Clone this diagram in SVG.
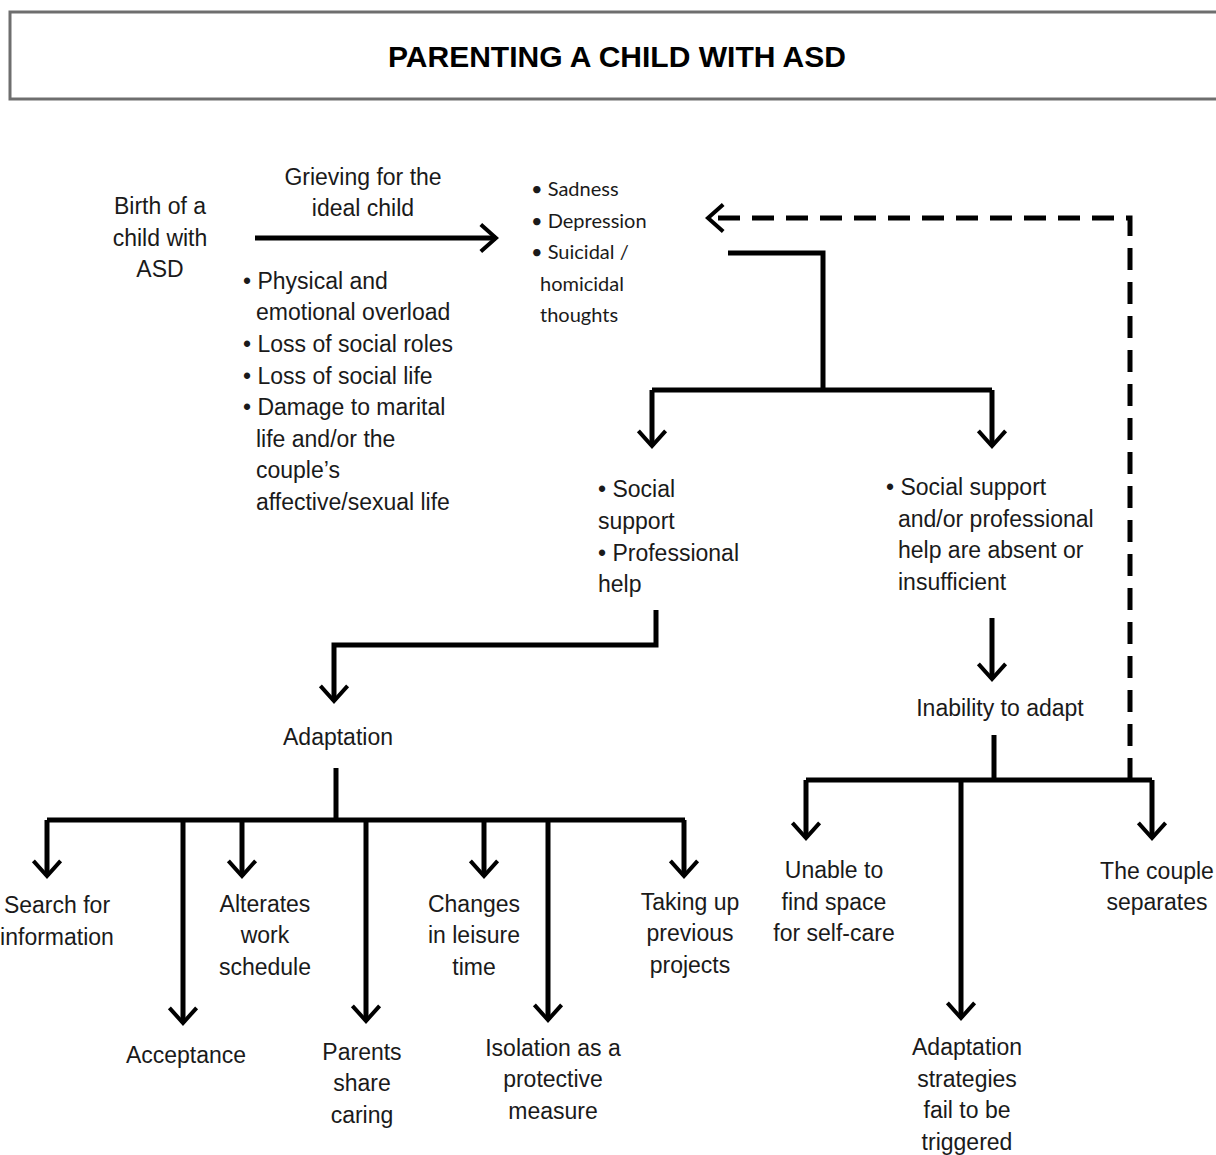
<svg xmlns="http://www.w3.org/2000/svg" width="1216" height="1155" viewBox="0 0 1216 1155">
<style>
.t{font-family:"Liberation Sans",Arial,sans-serif;font-size:23px;fill:#1a1a1a}
.c{text-anchor:middle}
.s{font-family:Lato,"Open Sans",sans-serif;font-size:20px;fill:#1a1a1a}
.ln{fill:none;stroke:#000;stroke-width:5;stroke-linejoin:miter}
.dash{fill:none;stroke:#000;stroke-width:5;stroke-dasharray:22 12}
</style>
<defs>
<marker id="ah" markerUnits="userSpaceOnUse" orient="auto" refX="0" refY="0" markerWidth="40" markerHeight="40" viewBox="-30 -25 40 50" overflow="visible">
<path d="M-19,-17 L0,0 L-19,17" fill="none" stroke="#000" stroke-width="5" stroke-dasharray="none"/>
</marker>
</defs>
<rect width="1216" height="1155" fill="#fff"/>
<g id="title">
<rect x="10" y="12" width="1220" height="87" fill="#fff" stroke="#6e6e6e" stroke-width="3"/>
<text x="617" y="67" font-family="Liberation Sans,Arial,sans-serif" font-weight="bold" font-size="29" text-anchor="middle" textLength="458" lengthAdjust="spacingAndGlyphs" fill="#000">PARENTING A CHILD WITH ASD</text>
</g>
<g id="connectors">
<path class="ln" d="M255,238 H496" marker-end="url(#ah)"/>
<path class="dash" d="M1130,780 V218 H708" marker-end="url(#ah)"/>
<path class="ln" d="M728,253 H823 V390"/>
<path class="ln" d="M652,390 H992"/>
<path class="ln" d="M652,390 V446" marker-end="url(#ah)"/>
<path class="ln" d="M992,390 V446" marker-end="url(#ah)"/>
<path class="ln" d="M656,610 V645 H334 V701" marker-end="url(#ah)"/>
<path class="ln" d="M336,768 V820"/>
<path class="ln" d="M47,820 H685"/>
<path class="ln" d="M47,820 V876" marker-end="url(#ah)"/>
<path class="ln" d="M183,820 V1023" marker-end="url(#ah)"/>
<path class="ln" d="M242,820 V876" marker-end="url(#ah)"/>
<path class="ln" d="M366,820 V1021" marker-end="url(#ah)"/>
<path class="ln" d="M484,820 V876" marker-end="url(#ah)"/>
<path class="ln" d="M548,820 V1020" marker-end="url(#ah)"/>
<path class="ln" d="M684,820 V876" marker-end="url(#ah)"/>
<path class="ln" d="M992,618 V679" marker-end="url(#ah)"/>
<path class="ln" d="M994,735 V780"/>
<path class="ln" d="M806,780 H1152"/>
<path class="ln" d="M806,780 V838" marker-end="url(#ah)"/>
<path class="ln" d="M961,780 V1018" marker-end="url(#ah)"/>
<path class="ln" d="M1152,780 V838" marker-end="url(#ah)"/>
</g>
<g id="birth">
<text class="t c" x="160" y="214">Birth of a</text>
<text class="t c" x="160" y="246">child with</text>
<text class="t c" x="160" y="277">ASD</text>
</g>
<g id="grieving">
<text class="t c" x="363" y="185">Grieving for the</text>
<text class="t c" x="363" y="216">ideal child</text>
</g>
<g id="overload">
<text class="t" x="243" y="289">• Physical and</text>
<text class="t" x="256" y="320">emotional overload</text>
<text class="t" x="243" y="352">• Loss of social roles</text>
<text class="t" x="243" y="384">• Loss of social life</text>
<text class="t" x="243" y="415">• Damage to marital</text>
<text class="t" x="256" y="447">life and/or the</text>
<text class="t" x="256" y="478">couple’s</text>
<text class="t" x="256" y="510">affective/sexual life</text>
</g>
<g id="sadness">
<text class="s" x="531" y="196">• Sadness</text>
<text class="s" x="531" y="228">• Depression</text>
<text class="s" x="531" y="259">• Suicidal /</text>
<text class="s" x="540" y="291">homicidal</text>
<text class="s" x="540" y="322">thoughts</text>
</g>
<g id="support">
<text class="t" x="598" y="497">• Social</text>
<text class="t" x="598" y="529">support</text>
<text class="t" x="598" y="561">• Professional</text>
<text class="t" x="598" y="592">help</text>
</g>
<g id="nosupport">
<text class="t" x="886" y="495">• Social support</text>
<text class="t" x="898" y="527">and/or professional</text>
<text class="t" x="898" y="558">help are  absent or</text>
<text class="t" x="898" y="590">insufficient</text>
</g>
<g id="adaptation">
<text class="t c" x="338" y="745">Adaptation</text>
</g>
<g id="inability">
<text class="t c" x="1000" y="716">Inability to adapt</text>
</g>
<g id="search">
<text class="t c" x="57" y="913">Search for</text>
<text class="t c" x="57" y="945">information</text>
</g>
<g id="acceptance">
<text class="t c" x="186" y="1063">Acceptance</text>
</g>
<g id="alterates">
<text class="t c" x="265" y="912">Alterates</text>
<text class="t c" x="265" y="943">work</text>
<text class="t c" x="265" y="975">schedule</text>
</g>
<g id="parents">
<text class="t c" x="362" y="1060">Parents</text>
<text class="t c" x="362" y="1091">share</text>
<text class="t c" x="362" y="1123">caring</text>
</g>
<g id="changes">
<text class="t c" x="474" y="912">Changes</text>
<text class="t c" x="474" y="943">in leisure</text>
<text class="t c" x="474" y="975">time</text>
</g>
<g id="isolation">
<text class="t c" x="553" y="1056">Isolation as a</text>
<text class="t c" x="553" y="1087">protective</text>
<text class="t c" x="553" y="1119">measure</text>
</g>
<g id="taking">
<text class="t c" x="690" y="910">Taking up</text>
<text class="t c" x="690" y="941">previous</text>
<text class="t c" x="690" y="973">projects</text>
</g>
<g id="unable">
<text class="t c" x="834" y="878">Unable to</text>
<text class="t c" x="834" y="910">find space</text>
<text class="t c" x="834" y="941">for self-care</text>
</g>
<g id="separates">
<text class="t c" x="1157" y="879">The couple</text>
<text class="t c" x="1157" y="910">separates</text>
</g>
<g id="fail">
<text class="t c" x="967" y="1055">Adaptation</text>
<text class="t c" x="967" y="1087">strategies</text>
<text class="t c" x="967" y="1118">fail to be</text>
<text class="t c" x="967" y="1150">triggered</text>
</g>
</svg>
